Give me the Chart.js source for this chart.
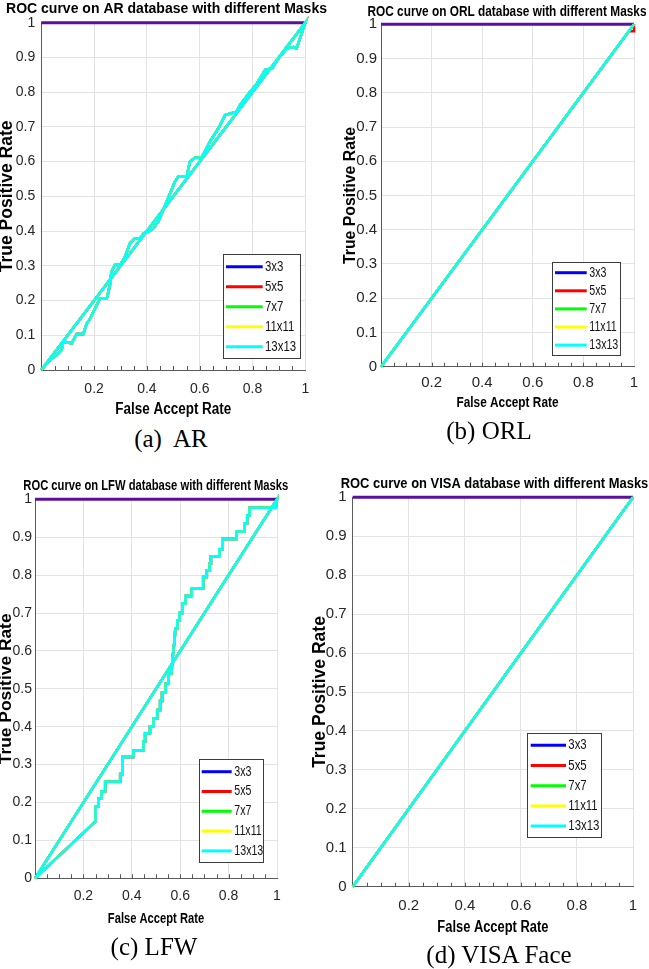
<!DOCTYPE html>
<html>
<head>
<meta charset="utf-8">
<script src="https://cdn.jsdelivr.net/npm/chart.js@4.4.1/dist/chart.umd.min.js"></script>
<style>
  html, body { margin: 0; padding: 0; background: #fff; }
  #pagina { position: relative; width: 649px; height: 969px; overflow: hidden; background: #fff; }
  canvas { position: absolute; }
  .pie { position: absolute; width: 240px; text-align: center; white-space: pre;
         font-family: "Liberation Serif", "Times New Roman", serif; font-size: 25px; line-height: 25px; color: #000; }
</style>
</head>
<body>
<div id="pagina">
  <canvas id="grafAR" width="330" height="425" style="left:0px;top:0px"></canvas>
  <canvas id="grafORL" width="313" height="420" style="left:336px;top:0px"></canvas>
  <canvas id="grafLFW" width="310" height="470" style="left:0px;top:465px"></canvas>
  <canvas id="grafVISA" width="339" height="475" style="left:310px;top:465px"></canvas>
  <div class="pie" style="left:51px;top:426px">(a)  AR</div>
  <div class="pie" style="left:369px;top:418px">(b) ORL</div>
  <div class="pie" style="left:34px;top:934px">(c) LFW</div>
  <div class="pie" style="left:379px;top:942px">(d) VISA Face</div>
</div>
<script>
// Datos (FAR en x, TPR en y)
const maskLabels = ['3x3', '5x5', '7x7', '11x11', '13x13'];

// línea superior TPR = 1
const topFar = [0, 1];
const topTpr = [1, 1];

// AR: curva escalonada hasta (1,1) y vuelta por la diagonal
const arFar = [0, 0.033, 0.058, 0.077, 0.083, 0.115, 0.134, 0.159, 0.172, 0.185, 0.21, 0.222, 0.248, 0.26, 0.266,
  0.279, 0.298, 0.317, 0.336, 0.355, 0.374, 0.387, 0.405, 0.424, 0.443, 0.475, 0.506, 0.519, 0.551, 0.563, 0.582,
  0.607, 0.639, 0.671, 0.696, 0.74, 0.753, 0.791, 0.817, 0.848, 0.873, 0.898, 0.93, 0.955, 0.967, 1, 0];
const arTpr = [0, 0.029, 0.043, 0.058, 0.082, 0.077, 0.104, 0.104, 0.134, 0.148, 0.187, 0.206, 0.206, 0.245, 0.283,
  0.302, 0.302, 0.326, 0.365, 0.379, 0.379, 0.393, 0.398, 0.408, 0.427, 0.485, 0.542, 0.557, 0.557, 0.6, 0.611,
  0.611, 0.658, 0.696, 0.734, 0.744, 0.763, 0.801, 0.825, 0.864, 0.868, 0.897, 0.926, 0.93, 0.926, 1, 0];

// ORL: diagonal (5x5 termina en 0.98 antes de subir)
const orlFar = [0, 1];
const orlTpr = [0, 1];
const orl5Far = [0, 0.98, 1, 1];
const orl5Tpr = [0, 0.98, 0.98, 1];

// LFW: escalones y vuelta por la diagonal
const lfwFar = [0, 0.25, 0.25, 0.262, 0.262, 0.275, 0.275, 0.29, 0.29, 0.352, 0.352, 0.362, 0.362, 0.406, 0.406,
  0.448, 0.448, 0.455, 0.455, 0.475, 0.475, 0.49, 0.49, 0.505, 0.505, 0.517, 0.517, 0.525, 0.525, 0.54, 0.54,
  0.552, 0.552, 0.563, 0.57, 0.577, 0.58, 0.588, 0.588, 0.597, 0.597, 0.61, 0.61, 0.622, 0.622, 0.647, 0.647,
  0.695, 0.695, 0.71, 0.71, 0.722, 0.722, 0.727, 0.727, 0.762, 0.762, 0.775, 0.775, 0.832, 0.832, 0.866, 0.866,
  0.877, 0.877, 0.887, 0.887, 0.995, 1, 0];
const lfwTpr = [0, 0.15, 0.19, 0.19, 0.21, 0.21, 0.23, 0.23, 0.255, 0.255, 0.275, 0.275, 0.32, 0.32, 0.338,
  0.338, 0.36, 0.36, 0.383, 0.383, 0.4, 0.4, 0.422, 0.422, 0.444, 0.444, 0.468, 0.468, 0.49, 0.49, 0.513,
  0.513, 0.54, 0.54, 0.59, 0.63, 0.66, 0.66, 0.68, 0.68, 0.7, 0.7, 0.725, 0.725, 0.745, 0.745, 0.765,
  0.765, 0.795, 0.795, 0.812, 0.812, 0.83, 0.83, 0.85, 0.85, 0.868, 0.868, 0.895, 0.895, 0.915, 0.915, 0.937,
  0.937, 0.958, 0.958, 0.978, 0.978, 1, 0];

// VISA: diagonal
const visaFar = [0, 1];
const visaTpr = [0, 1];

const maskColors = ['#0000ff', '#ff0000', '#00ff00', '#ffff00', '#00ffff'];
const SANS = '"Liberation Sans", Arial, sans-serif';

// texto estrechado horizontalmente (la figura original está comprimida)
function textoEstrecho(ctx, texto, x, y, escala) {
  ctx.save();
  ctx.translate(x, y);
  ctx.scale(escala, 1);
  ctx.fillText(texto, 0, 0);
  ctx.restore();
}

// marcas menores del eje X hacia dentro
const marcasX = {
  id: 'marcasX',
  beforeDatasetsDraw(chart) {
    const { ctx, chartArea, scales } = chart;
    ctx.save();
    ctx.strokeStyle = '#555';
    ctx.lineWidth = 1;
    ctx.beginPath();
    for (let k = 1; k < 20; k++) {
      const px = Math.round(scales.x.getPixelForValue(k / 20)) + 0.5;
      ctx.moveTo(px, chartArea.bottom);
      ctx.lineTo(px, chartArea.bottom - 4);
    }
    ctx.stroke();
    ctx.restore();
  }
};

// título del panel y título del eje X, ajustados al ancho medido
const tituloPanel = {
  id: 'tituloPanel',
  afterDraw(chart, args, o) {
    const { ctx, chartArea } = chart;
    ctx.save();
    ctx.fillStyle = '#000';
    ctx.textAlign = 'center';
    ctx.textBaseline = 'middle';
    ctx.font = `bold ${o.size}px ${SANS}`;
    textoEstrecho(ctx, o.text, o.x, o.y, o.w / ctx.measureText(o.text).width);
    ctx.font = `bold ${o.xSize}px ${SANS}`;
    const xc = (chartArea.left + chartArea.right) / 2;
    textoEstrecho(ctx, o.xText, xc, o.xY, o.xW / ctx.measureText(o.xText).width);
    ctx.restore();
  }
};

// leyenda en caja dentro del área del gráfico
const leyendaCaja = {
  id: 'leyendaCaja',
  afterDraw(chart, args, o) {
    const ctx = chart.ctx;
    ctx.save();
    ctx.fillStyle = '#fff';
    ctx.fillRect(o.x, o.y, o.w, o.h);
    ctx.strokeStyle = '#3c3c3c';
    ctx.lineWidth = 1;
    ctx.strokeRect(Math.round(o.x) + 0.5, Math.round(o.y) + 0.5, Math.round(o.w), Math.round(o.h));
    ctx.font = `${o.size}px ${SANS}`;
    ctx.textBaseline = 'middle';
    chart.data.datasets.filter(d => maskLabels.includes(d.label)).forEach((d, i) => {
      const y = o.y0 + i * o.dy;
      ctx.strokeStyle = d.borderColor;
      ctx.lineWidth = 3;
      ctx.beginPath();
      ctx.moveTo(o.x1, y);
      ctx.lineTo(o.x2, y);
      ctx.stroke();
      ctx.fillStyle = '#111';
      textoEstrecho(ctx, d.label, o.tx, y, 0.76);
    });
    ctx.restore();
  }
};

const paneles = [
  {
    id: 'grafAR', titulo: 'ROC curve on AR database with different Masks',
    series: [[arFar, arTpr], [arFar, arTpr], [arFar, arTpr], [arFar, arTpr], [arFar, arTpr]],
    area: { l: 41.3, t: 22.7, r: 305.3, b: 370 },
    tit: { x: 166.5, y: 8.5, size: 15, w: 321 },
    xTit: { y: 410, size: 16, w: 116 },
    tick: 14, xTickPad: 11.7, yTickPad: 6,
    yTit: { size: 17.5, pad: -1.25 },
    ley: { x: 222.7, y: 254, w: 76.6, h: 104, x1: 226, x2: 262.7, tx: 265, y0: 266.7, dy: 20, size: 15 }
  },
  {
    id: 'grafORL', titulo: 'ROC curve on ORL database with different Masks',
    series: [[orlFar, orlTpr], [orl5Far, orl5Tpr], [orlFar, orlTpr], [orlFar, orlTpr], [orlFar, orlTpr]],
    area: { l: 45, t: 24.3, r: 298, b: 366.7 },
    tit: { x: 171, y: 11.7, size: 15, w: 279 },
    xTit: { y: 402.5, size: 15.5, w: 102 },
    tick: 15, xTickPad: 8.3, yTickPad: 4,
    yTit: { size: 15.8, pad: 6.6 },
    ley: { x: 215.7, y: 261.7, w: 67.6, h: 93.3, x1: 219, x2: 250.7, tx: 253.3, y0: 272.7, dy: 18.1, size: 14 }
  },
  {
    id: 'grafLFW', titulo: 'ROC curve on LFW database with different Masks',
    series: [[lfwFar, lfwTpr], [lfwFar, lfwTpr], [lfwFar, lfwTpr], [lfwFar, lfwTpr], [lfwFar, lfwTpr]],
    area: { l: 35, t: 34.3, r: 277, b: 413.3 },
    tit: { x: 155.8, y: 20.8, size: 14, w: 265 },
    xTit: { y: 454, size: 15, w: 96.3 },
    tick: 14, xTickPad: 11.2, yTickPad: 3,
    yTit: { size: 17.4, pad: -2 },
    ley: { x: 199, y: 294.3, w: 64.3, h: 103.4, x1: 201.7, x2: 231.7, tx: 234.3, y0: 306.7, dy: 19.8, size: 14 }
  },
  {
    id: 'grafVISA', titulo: 'ROC curve on VISA database with different Masks',
    series: [[visaFar, visaTpr], [visaFar, visaTpr], [visaFar, visaTpr], [visaFar, visaTpr], [visaFar, visaTpr]],
    area: { l: 42.7, t: 32.3, r: 325.7, b: 421.7 },
    tit: { x: 184.5, y: 18.3, size: 15.5, w: 307.6 },
    xTit: { y: 463, size: 16, w: 111 },
    tick: 15, xTickPad: 11.8, yTickPad: 6,
    yTit: { size: 17.5, pad: 1.25 },
    ley: { x: 217.3, y: 268.3, w: 74.4, h: 104.4, x1: 220.7, x2: 256, tx: 258.3, y0: 280.3, dy: 20.2, size: 15 }
  }
];

const puntos = (xs, ys) => xs.map((x, i) => ({ x, y: ys[i] }));

function crearGrafico(p) {
  const canvas = document.getElementById(p.id);
  const W = canvas.width, H = canvas.height;

  const datasets = maskLabels.map((label, i) => ({
    label,
    data: puntos(p.series[i][0], p.series[i][1]),
    borderColor: maskColors[i],
    backgroundColor: maskColors[i],
    borderWidth: 2.5,
    showLine: true,
    clip: false,
    order: 5 - i // el cian (13x13) queda encima
  }));
  datasets.push({
    label: 'TPR = 1',
    data: puntos(topFar, topTpr),
    borderColor: '#5a0f9e',
    borderWidth: 3,
    showLine: true,
    clip: false,
    order: 6
  });

  return new Chart(canvas, {
    type: 'scatter',
    data: { datasets },
    plugins: [marcasX, tituloPanel, leyendaCaja],
    options: {
      responsive: false,
      animation: false,
      devicePixelRatio: 1,
      layout: { padding: { left: 0, top: p.area.t, right: W - p.area.r, bottom: 0 } },
      elements: { point: { radius: 0 }, line: { tension: 0 } },
      plugins: {
        legend: { display: false },
        tooltip: { enabled: false },
        tituloPanel: {
          text: p.titulo, x: p.tit.x, y: p.tit.y, size: p.tit.size, w: p.tit.w,
          xText: 'False Accept Rate', xY: p.xTit.y, xSize: p.xTit.size, xW: p.xTit.w
        },
        leyendaCaja: p.ley
      },
      scales: {
        x: {
          type: 'linear', min: 0, max: 1,
          afterFit: s => { s.height = H - p.area.b; },
          grid: { color: '#e3e3e3', drawTicks: false },
          border: { color: '#5a5a5a', width: 1 },
          ticks: {
            stepSize: 0.2, autoSkip: false, maxRotation: 0, padding: p.xTickPad, color: '#262626',
            font: { family: SANS, size: p.tick, lineHeight: 1 },
            callback: v => (v === 0 ? '' : String(+v.toFixed(1)))
          }
        },
        y: {
          type: 'linear', min: 0, max: 1,
          afterFit: s => { s.width = p.area.l; },
          grid: { color: '#e3e3e3', drawTicks: false },
          border: { color: '#5a5a5a', width: 1 },
          ticks: {
            stepSize: 0.1, autoSkip: false, padding: p.yTickPad, color: '#262626',
            font: { family: SANS, size: p.tick, lineHeight: 1 },
            callback: v => String(+v.toFixed(1))
          },
          title: {
            display: true, text: 'True Positive Rate', color: '#000',
            font: { family: SANS, size: p.yTit.size, weight: 'bold', lineHeight: 1 },
            padding: { top: p.yTit.pad, bottom: 0 }
          }
        }
      }
    }
  });
}

paneles.forEach(crearGrafico);
</script>
</body>
</html>
